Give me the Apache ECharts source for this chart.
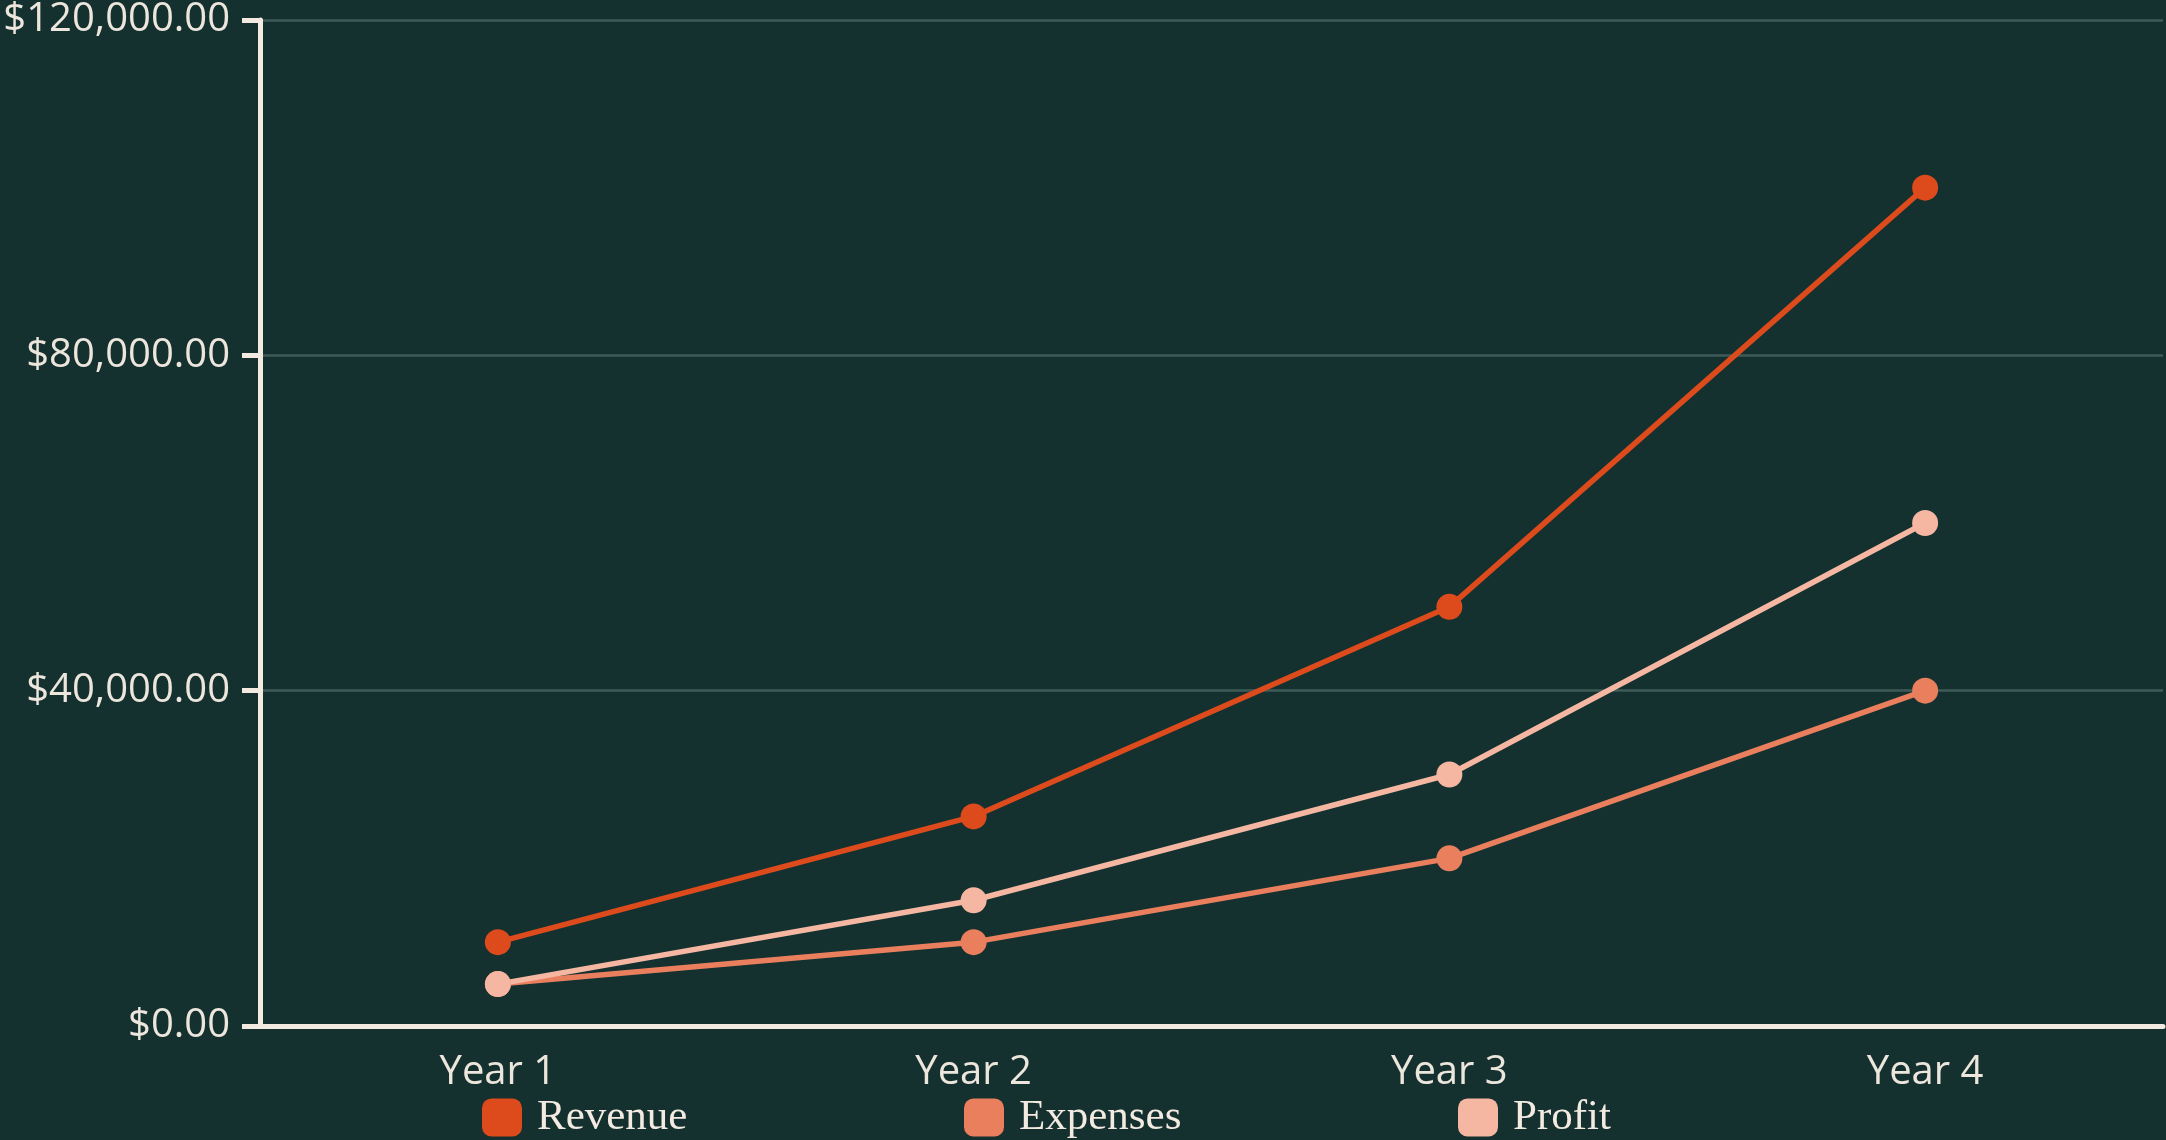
<!DOCTYPE html>
<html>
<head>
<meta charset="utf-8">
<script src="https://cdn.jsdelivr.net/npm/echarts@6/dist/echarts.min.js"></script>
<style>
  html, body { margin: 0; padding: 0; background: #143130; }
  #chart { width: 2166px; height: 1140px; }
</style>
</head>
<body>
<div id="chart"></div>
<script>
// 数据
const categories = ['Year 1', 'Year 2', 'Year 3', 'Year 4']
const revenue = [10000, 25000, 50000, 100000]
const expenses = [5000, 10000, 20000, 40000]
const profit = [5000, 15000, 30000, 60000]

const colors = ['#dd4b1c', '#ea7f5e', '#f5b6a2']
const names = ['Revenue', 'Expenses', 'Profit']
const legendLeft = [482, 964, 1458]
const cream = '#f3ebe1'

const chart = echarts.init(document.getElementById('chart'))

// 每个图例单独放，保持等间距
const legends = names.map((n, i) => ({
  data: [n],
  left: legendLeft[i],
  top: 1096,
  padding: 0,
  icon: 'roundRect',
  itemWidth: 40,
  itemHeight: 38,
  textStyle: {
    color: cream,
    fontFamily: 'Liberation Serif',
    fontSize: 43,
    padding: [0, 0, 0, 10]
  }
}))

const makeSeries = (name, data, color) => ({
  name,
  type: 'line',
  data,
  symbol: 'circle',
  symbolSize: 26,
  color,
  lineStyle: { width: 5.5, color },
  itemStyle: { color },
  emphasis: { disabled: true }
})

chart.setOption({
  backgroundColor: '#143130',
  animation: false,
  legend: legends,
  grid: { left: 260, right: 3, top: 19, bottom: 114 },
  xAxis: {
    type: 'category',
    data: categories,
    axisLine: { lineStyle: { color: cream, width: 5 } },
    axisTick: { length: 18, alignWithLabel: true, lineStyle: { color: cream, width: 5 } },
    axisLabel: { color: '#ece6dc', fontFamily: 'Open Sans', fontSize: 40, margin: 27 }
  },
  yAxis: {
    type: 'value',
    min: 0,
    max: 120000,
    interval: 40000,
    axisLine: { show: true, lineStyle: { color: cream, width: 5 } },
    axisTick: { show: true, length: 18, lineStyle: { color: cream, width: 5 } },
    splitLine: { lineStyle: { color: '#3e5b57', width: 2.5 } },
    axisLabel: {
      color: '#ece6dc',
      fontFamily: 'Open Sans',
      fontSize: 40,
      margin: 30,
      formatter: v => '$' + v.toLocaleString('en-US', { minimumFractionDigits: 2, maximumFractionDigits: 2 })
    }
  },
  series: [
    makeSeries(names[0], revenue, colors[0]),
    makeSeries(names[1], expenses, colors[1]),
    makeSeries(names[2], profit, colors[2])
  ]
})
</script>
</body>
</html>
